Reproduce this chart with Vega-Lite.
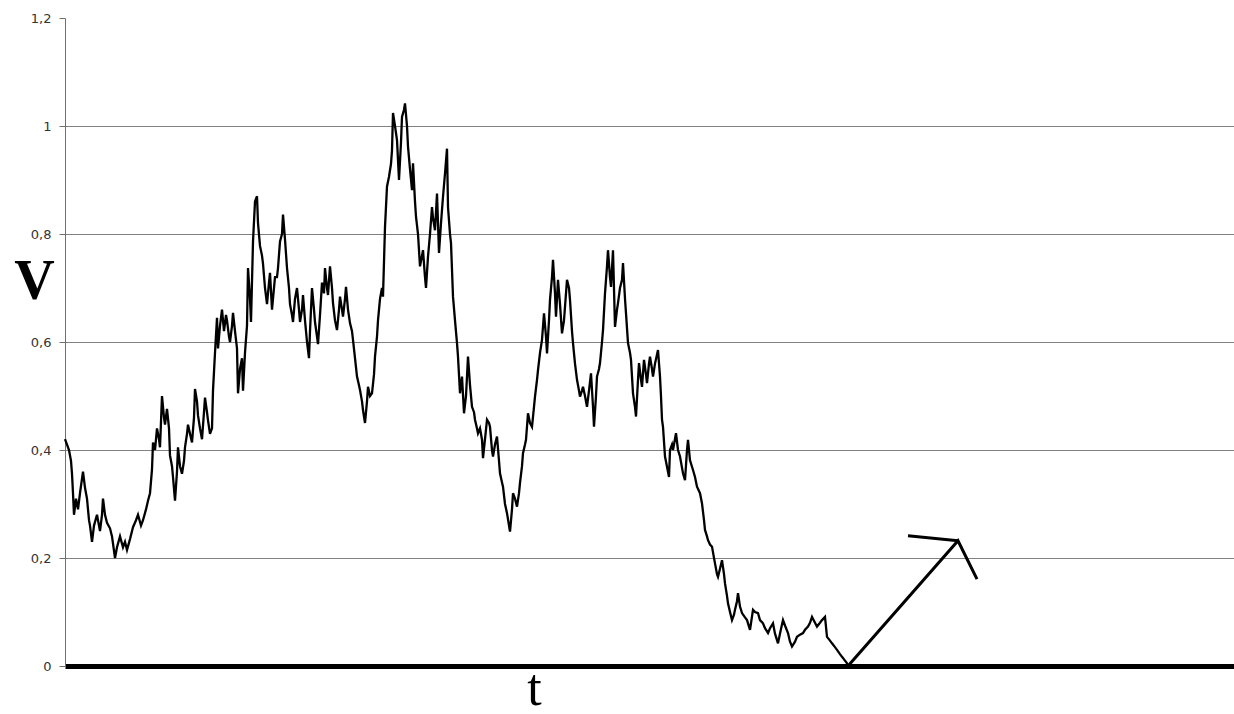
{
"$schema": "https://vega.github.io/schema/vega-lite/v6.json",
"width": 1169, "height": 648,
"autosize": {"type": "none"},
"padding": {"left": 65, "top": 18, "right": 0, "bottom": 48},
"background": "white",
"config": {"view": {"stroke": null}},
"layer": [
{
"data": {"values": [
{"t":65,"v":0.42},{"t":67,"v":0.41},{"t":69,"v":0.40},{"t":71,"v":0.38},{"t":72,"v":0.356},{"t":73,"v":0.32},{"t":74,"v":0.28},{"t":76,"v":0.31},{"t":78,"v":0.29},{"t":80,"v":0.32},{"t":83,"v":0.36},{"t":85,"v":0.33},{"t":87,"v":0.31},{"t":89,"v":0.27},{"t":90,"v":0.26},{"t":92,"v":0.23},{"t":94,"v":0.26},{"t":97,"v":0.28},{"t":99,"v":0.26},{"t":100,"v":0.25},{"t":102,"v":0.28},{"t":103,"v":0.31},{"t":105,"v":0.28},{"t":107,"v":0.265},{"t":110,"v":0.255},{"t":112,"v":0.24},{"t":115,"v":0.20},{"t":117,"v":0.22},{"t":120,"v":0.24},{"t":123,"v":0.22},{"t":125,"v":0.23},{"t":127,"v":0.215},{"t":130,"v":0.235},{"t":133,"v":0.257},{"t":136,"v":0.27},{"t":138,"v":0.28},{"t":141,"v":0.26},{"t":143,"v":0.27},{"t":146,"v":0.29},{"t":148,"v":0.306},{"t":150,"v":0.32},{"t":152,"v":0.364},{"t":153,"v":0.414},{"t":155,"v":0.40},{"t":157,"v":0.44},{"t":159,"v":0.42},{"t":160,"v":0.405},{"t":162,"v":0.50},{"t":164,"v":0.46},{"t":165,"v":0.447},{"t":167,"v":0.476},{"t":169,"v":0.44},{"t":170,"v":0.39},{"t":172,"v":0.37},{"t":173,"v":0.35},{"t":175,"v":0.306},{"t":177,"v":0.36},{"t":178,"v":0.405},{"t":180,"v":0.37},{"t":182,"v":0.356},{"t":184,"v":0.38},{"t":185,"v":0.405},{"t":187,"v":0.43},{"t":188,"v":0.447},{"t":190,"v":0.43},{"t":192,"v":0.414},{"t":194,"v":0.46},{"t":195,"v":0.513},{"t":197,"v":0.49},{"t":198,"v":0.464},{"t":200,"v":0.44},{"t":202,"v":0.42},{"t":204,"v":0.47},{"t":205,"v":0.497},{"t":207,"v":0.47},{"t":208,"v":0.455},{"t":210,"v":0.43},{"t":212,"v":0.44},{"t":213,"v":0.51},{"t":215,"v":0.58},{"t":217,"v":0.645},{"t":218,"v":0.588},{"t":220,"v":0.63},{"t":222,"v":0.66},{"t":224,"v":0.62},{"t":226,"v":0.65},{"t":227,"v":0.64},{"t":229,"v":0.61},{"t":230,"v":0.60},{"t":232,"v":0.63},{"t":233,"v":0.654},{"t":235,"v":0.62},{"t":237,"v":0.588},{"t":238,"v":0.505},{"t":240,"v":0.55},{"t":242,"v":0.57},{"t":243,"v":0.51},{"t":245,"v":0.58},{"t":247,"v":0.63},{"t":248,"v":0.737},{"t":250,"v":0.68},{"t":251,"v":0.637},{"t":253,"v":0.786},{"t":255,"v":0.86},{"t":257,"v":0.87},{"t":258,"v":0.82},{"t":260,"v":0.778},{"t":262,"v":0.76},{"t":263,"v":0.745},{"t":265,"v":0.70},{"t":267,"v":0.67},{"t":269,"v":0.71},{"t":270,"v":0.728},{"t":272,"v":0.66},{"t":274,"v":0.70},{"t":275,"v":0.72},{"t":277,"v":0.72},{"t":278,"v":0.737},{"t":280,"v":0.786},{"t":282,"v":0.80},{"t":283,"v":0.836},{"t":285,"v":0.79},{"t":287,"v":0.737},{"t":289,"v":0.70},{"t":290,"v":0.67},{"t":292,"v":0.65},{"t":293,"v":0.637},{"t":295,"v":0.68},{"t":297,"v":0.70},{"t":299,"v":0.66},{"t":300,"v":0.637},{"t":302,"v":0.66},{"t":303,"v":0.687},{"t":305,"v":0.64},{"t":307,"v":0.60},{"t":309,"v":0.57},{"t":310,"v":0.62},{"t":312,"v":0.70},{"t":314,"v":0.66},{"t":315,"v":0.637},{"t":317,"v":0.61},{"t":318,"v":0.596},{"t":320,"v":0.65},{"t":322,"v":0.71},{"t":324,"v":0.69},{"t":325,"v":0.737},{"t":327,"v":0.70},{"t":328,"v":0.687},{"t":330,"v":0.74},{"t":332,"v":0.70},{"t":333,"v":0.672},{"t":335,"v":0.64},{"t":337,"v":0.622},{"t":339,"v":0.66},{"t":340,"v":0.684},{"t":342,"v":0.66},{"t":343,"v":0.647},{"t":345,"v":0.68},{"t":346,"v":0.702},{"t":348,"v":0.66},{"t":350,"v":0.635},{"t":352,"v":0.62},{"t":353,"v":0.604},{"t":355,"v":0.57},{"t":357,"v":0.536},{"t":359,"v":0.52},{"t":360,"v":0.511},{"t":362,"v":0.49},{"t":363,"v":0.474},{"t":365,"v":0.45},{"t":367,"v":0.49},{"t":368,"v":0.517},{"t":370,"v":0.50},{"t":372,"v":0.505},{"t":374,"v":0.54},{"t":375,"v":0.573},{"t":377,"v":0.61},{"t":378,"v":0.64},{"t":380,"v":0.68},{"t":382,"v":0.70},{"t":383,"v":0.684},{"t":385,"v":0.813},{"t":387,"v":0.888},{"t":389,"v":0.906},{"t":391,"v":0.93},{"t":392,"v":0.955},{"t":393,"v":1.024},{"t":395,"v":1.00},{"t":397,"v":0.974},{"t":399,"v":0.90},{"t":401,"v":0.97},{"t":402,"v":1.017},{"t":404,"v":1.03},{"t":405,"v":1.042},{"t":407,"v":1.00},{"t":408,"v":0.962},{"t":410,"v":0.92},{"t":412,"v":0.881},{"t":413,"v":0.931},{"t":415,"v":0.86},{"t":416,"v":0.832},{"t":418,"v":0.80},{"t":420,"v":0.74},{"t":422,"v":0.76},{"t":423,"v":0.77},{"t":425,"v":0.72},{"t":426,"v":0.70},{"t":428,"v":0.758},{"t":430,"v":0.80},{"t":432,"v":0.85},{"t":433,"v":0.83},{"t":435,"v":0.807},{"t":437,"v":0.875},{"t":439,"v":0.765},{"t":441,"v":0.82},{"t":443,"v":0.869},{"t":445,"v":0.912},{"t":447,"v":0.958},{"t":448,"v":0.85},{"t":450,"v":0.80},{"t":451,"v":0.783},{"t":453,"v":0.684},{"t":455,"v":0.64},{"t":457,"v":0.598},{"t":458,"v":0.573},{"t":460,"v":0.505},{"t":462,"v":0.536},{"t":464,"v":0.468},{"t":466,"v":0.50},{"t":467,"v":0.536},{"t":468,"v":0.573},{"t":470,"v":0.52},{"t":472,"v":0.48},{"t":474,"v":0.47},{"t":475,"v":0.456},{"t":477,"v":0.44},{"t":478,"v":0.431},{"t":480,"v":0.44},{"t":482,"v":0.419},{"t":483,"v":0.385},{"t":485,"v":0.42},{"t":487,"v":0.456},{"t":489,"v":0.45},{"t":490,"v":0.443},{"t":492,"v":0.40},{"t":493,"v":0.388},{"t":495,"v":0.41},{"t":497,"v":0.425},{"t":499,"v":0.38},{"t":500,"v":0.357},{"t":502,"v":0.34},{"t":503,"v":0.332},{"t":505,"v":0.30},{"t":507,"v":0.283},{"t":509,"v":0.26},{"t":510,"v":0.249},{"t":512,"v":0.29},{"t":513,"v":0.32},{"t":515,"v":0.31},{"t":517,"v":0.295},{"t":519,"v":0.32},{"t":520,"v":0.339},{"t":522,"v":0.37},{"t":523,"v":0.394},{"t":525,"v":0.41},{"t":526,"v":0.419},{"t":528,"v":0.468},{"t":530,"v":0.45},{"t":532,"v":0.443},{"t":534,"v":0.48},{"t":535,"v":0.499},{"t":537,"v":0.53},{"t":538,"v":0.548},{"t":540,"v":0.58},{"t":542,"v":0.604},{"t":544,"v":0.653},{"t":546,"v":0.61},{"t":547,"v":0.579},{"t":549,"v":0.64},{"t":550,"v":0.678},{"t":552,"v":0.72},{"t":553,"v":0.752},{"t":555,"v":0.69},{"t":556,"v":0.647},{"t":558,"v":0.715},{"t":560,"v":0.67},{"t":562,"v":0.616},{"t":564,"v":0.64},{"t":565,"v":0.665},{"t":567,"v":0.715},{"t":569,"v":0.70},{"t":570,"v":0.678},{"t":572,"v":0.62},{"t":573,"v":0.598},{"t":575,"v":0.56},{"t":577,"v":0.53},{"t":579,"v":0.51},{"t":580,"v":0.499},{"t":582,"v":0.51},{"t":583,"v":0.517},{"t":585,"v":0.50},{"t":587,"v":0.48},{"t":589,"v":0.51},{"t":591,"v":0.542},{"t":593,"v":0.48},{"t":594,"v":0.443},{"t":596,"v":0.50},{"t":597,"v":0.536},{"t":599,"v":0.55},{"t":600,"v":0.561},{"t":602,"v":0.60},{"t":603,"v":0.622},{"t":605,"v":0.69},{"t":607,"v":0.74},{"t":608,"v":0.77},{"t":610,"v":0.72},{"t":611,"v":0.702},{"t":613,"v":0.77},{"t":615,"v":0.628},{"t":617,"v":0.66},{"t":618,"v":0.672},{"t":620,"v":0.70},{"t":622,"v":0.715},{"t":623,"v":0.746},{"t":625,"v":0.68},{"t":626,"v":0.653},{"t":628,"v":0.598},{"t":630,"v":0.58},{"t":631,"v":0.567},{"t":633,"v":0.505},{"t":635,"v":0.48},{"t":636,"v":0.462},{"t":638,"v":0.53},{"t":639,"v":0.561},{"t":641,"v":0.53},{"t":642,"v":0.517},{"t":644,"v":0.567},{"t":646,"v":0.54},{"t":647,"v":0.524},{"t":649,"v":0.56},{"t":650,"v":0.573},{"t":652,"v":0.55},{"t":653,"v":0.536},{"t":655,"v":0.56},{"t":658,"v":0.585},{"t":660,"v":0.536},{"t":661,"v":0.499},{"t":662,"v":0.456},{"t":663,"v":0.443},{"t":665,"v":0.388},{"t":667,"v":0.369},{"t":669,"v":0.35},{"t":670,"v":0.40},{"t":672,"v":0.41},{"t":673,"v":0.40},{"t":676,"v":0.431},{"t":678,"v":0.40},{"t":680,"v":0.388},{"t":683,"v":0.357},{"t":685,"v":0.344},{"t":687,"v":0.40},{"t":688,"v":0.419},{"t":690,"v":0.381},{"t":693,"v":0.363},{"t":695,"v":0.35},{"t":697,"v":0.332},{"t":700,"v":0.32},{"t":702,"v":0.301},{"t":704,"v":0.27},{"t":705,"v":0.252},{"t":707,"v":0.24},{"t":708,"v":0.233},{"t":710,"v":0.225},{"t":712,"v":0.221},{"t":714,"v":0.20},{"t":715,"v":0.19},{"t":717,"v":0.17},{"t":718,"v":0.165},{"t":720,"v":0.18},{"t":722,"v":0.196},{"t":724,"v":0.17},{"t":725,"v":0.153},{"t":727,"v":0.13},{"t":728,"v":0.116},{"t":730,"v":0.10},{"t":732,"v":0.085},{"t":734,"v":0.095},{"t":735,"v":0.104},{"t":737,"v":0.12},{"t":738,"v":0.135},{"t":740,"v":0.11},{"t":742,"v":0.098},{"t":745,"v":0.09},{"t":747,"v":0.085},{"t":750,"v":0.067},{"t":753,"v":0.104},{"t":755,"v":0.10},{"t":758,"v":0.098},{"t":760,"v":0.085},{"t":763,"v":0.079},{"t":765,"v":0.07},{"t":768,"v":0.061},{"t":770,"v":0.07},{"t":773,"v":0.079},{"t":775,"v":0.06},{"t":778,"v":0.042},{"t":780,"v":0.06},{"t":783,"v":0.085},{"t":785,"v":0.075},{"t":788,"v":0.061},{"t":790,"v":0.045},{"t":792,"v":0.036},{"t":795,"v":0.045},{"t":797,"v":0.054},{"t":800,"v":0.058},{"t":803,"v":0.061},{"t":805,"v":0.067},{"t":808,"v":0.073},{"t":810,"v":0.08},{"t":812,"v":0.091},{"t":815,"v":0.08},{"t":817,"v":0.073},{"t":820,"v":0.08},{"t":822,"v":0.085},{"t":825,"v":0.091},{"t":827,"v":0.054},{"t":830,"v":0.047},{"t":832,"v":0.042},{"t":835,"v":0.035},{"t":837,"v":0.03},{"t":840,"v":0.022},{"t":842,"v":0.017},{"t":845,"v":0.01},{"t":847,"v":0.005},{"t":848,"v":0}
]},
"mark": {"type": "line", "color": "black", "strokeWidth": 2.3, "interpolate": "linear"},
"encoding": {
"x": {"field": "t", "type": "quantitative", "scale": {"domain": [65, 1234], "nice": false, "zero": false},
"axis": {"title": "t", "grid": false, "ticks": false, "labels": false, "domainColor": "black", "domainWidth": 5,
"titleFont": "Liberation Serif", "titleFontSize": 52, "titleFontWeight": "normal", "titleColor": "black",
"titleX": 469, "titleY": 38, "titleBaseline": "alphabetic", "titleAlign": "center"}},
"y": {"field": "v", "type": "quantitative", "scale": {"domain": [0, 1.2], "nice": false},
"axis": {"title": "V", "values": [0, 0.2, 0.4, 0.6, 0.8, 1, 1.2],
"labelExpr": "replace(toString(datum.value), '.', ',')",
"grid": true, "gridColor": "#808080", "gridWidth": 1,
"gridOpacity": {"condition": {"test": "datum.value > 1.1 || datum.value < 0.1", "value": 0}, "value": 1},
"domainColor": "#707070", "tickColor": "#707070", "tickSize": 6, "labelPadding": 8,
"labelFont": "DejaVu Sans", "labelFontSize": 13, "labelColor": "#333",
"titleFont": "Liberation Serif", "titleFontSize": 56, "titleFontWeight": "bold", "titleColor": "black",
"titleAngle": 0, "titleX": -31, "titleY": 280, "titleAlign": "center", "titleBaseline": "alphabetic"}}
}
},
{
"data": {"values": [
{"t":848,"v":0,"seg":"a","o":1},{"t":958,"v":0.232,"seg":"a","o":2},{"t":977,"v":0.161,"seg":"a","o":3},
{"t":908,"v":0.241,"seg":"b","o":1},{"t":958,"v":0.232,"seg":"b","o":2}
]},
"mark": {"type": "line", "color": "black", "strokeWidth": 3, "strokeJoin": "miter"},
"encoding": {
"x": {"field": "t", "type": "quantitative"},
"y": {"field": "v", "type": "quantitative"},
"detail": {"field": "seg"},
"order": {"field": "o"}
}
}
]
}
